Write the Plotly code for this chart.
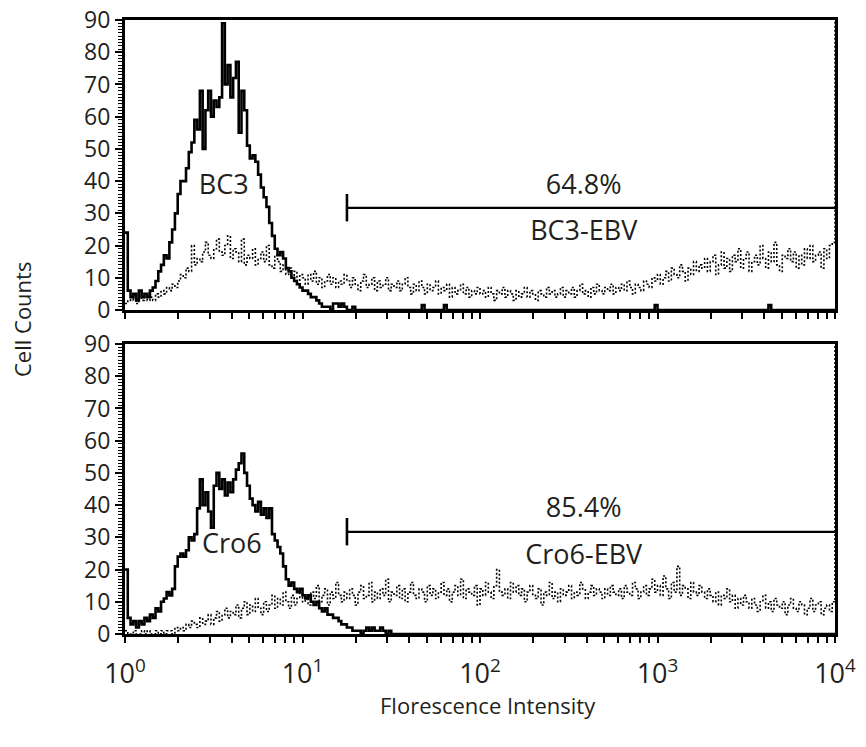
import plotly.graph_objects as go

# ---------------- data (256-channel log histograms, 64 channels per decade) ----------------
channels_per_decade = 64

bc3_counts = [
    24, 6, 4, 5, 3, 6, 4, 5, 4, 6, 7, 9, 12, 14, 17, 16,
    21, 25, 30, 36, 40, 40, 44, 49, 52, 59, 56, 68, 50, 62, 68, 60,
    65, 63, 66, 89, 70, 76, 66, 72, 77, 55, 68, 62, 51, 47, 48, 46,
    42, 38, 35, 32, 27, 23, 19, 17, 18, 16, 13, 12, 10, 9, 8, 7,
    6, 6, 5, 4, 4, 3, 2, 1, 1, 1, 0, 2, 2, 1, 2, 1,
    0, 0, 1, 0, 0, 0, 0, 0, 0, 0, 0, 0, 0, 0, 0, 0,
    0, 0, 0, 0, 0, 0, 0, 0, 0, 0, 0, 1.5, 0, 0, 0, 0,
    0, 0, 0, 1.5, 0, 0, 0, 0, 0, 0, 0, 0, 0, 0, 0, 0,
    0, 0, 0, 0, 0, 0, 0, 0, 0, 0, 0, 0, 0, 0, 0, 0,
    0, 0, 0, 0, 0, 0, 0, 0, 0, 0, 0, 0, 0, 0, 0, 0,
    0, 0, 0, 0, 0, 0, 0, 0, 0, 0, 0, 0, 0, 0, 0, 0,
    0, 0, 0, 0, 0, 0, 0, 0, 0, 0, 0, 0, 0, 0, 0, 1.5,
    0, 0, 0, 0, 0, 0, 0, 0, 0, 0, 0, 0, 0, 0, 0, 0,
    0, 0, 0, 0, 0, 0, 0, 0, 0, 0, 0, 0, 0, 0, 0, 0,
    0, 0, 0, 0, 0, 0, 0, 0, 1.5, 0, 0, 0, 0, 0, 0, 0,
    0, 0, 0, 0, 0, 0, 0, 0, 0, 0, 0, 0, 0, 0, 0, 0,
    0,
]

bc3_ebv_counts = [
    2, 3, 4, 3, 2, 4, 3, 5, 3, 4, 3, 5, 4, 6, 5, 7,
    6, 8, 7, 9, 11, 10, 13, 12, 20, 14, 16, 15, 18, 21, 17, 16,
    19, 22, 18, 17, 20, 23, 16, 19, 18, 15, 22, 14, 17, 16, 19, 14,
    16, 18, 15, 20, 14, 13, 17, 15, 12, 14, 11, 13, 10, 12, 9, 11,
    10, 8, 11, 9, 12, 8, 10, 7, 9, 11, 8, 10, 7, 9, 8, 11,
    9, 7, 10, 8, 6, 9, 11, 7, 8, 10, 6, 9, 7, 8, 10, 6,
    8, 7, 9, 6, 8, 10, 7, 5, 8, 6, 9, 7, 5, 8, 6, 7,
    9, 5, 7, 6, 8, 4, 7, 5, 6, 8, 5, 7, 4, 6, 5, 7,
    5, 6, 4, 7, 5, 3, 6, 5, 7, 4, 6, 5, 3, 6, 4, 5,
    7, 4, 6, 5, 3, 6, 5, 4, 7, 5, 6, 4, 5, 7, 4, 6,
    5, 7, 4, 6, 8, 5, 6, 4, 7, 5, 8, 6, 5, 7, 6, 8,
    5, 7, 6, 8, 6, 9, 7, 5, 8, 7, 6, 9, 8, 7, 10, 9,
    11, 8, 10, 12, 9, 13, 11, 10, 14, 12, 9, 13, 11, 15, 12, 14,
    13, 16, 12, 15, 17, 11, 14, 18, 13, 16, 12, 17, 15, 19, 13, 16,
    18, 12, 15, 17, 14, 20, 16, 13, 18, 15, 21, 14, 12, 17, 16, 19,
    15, 18, 13, 17, 14, 19, 16, 20, 15, 17, 18, 13, 19, 16, 20, 21,
    99,
]

cro6_counts = [
    20, 5, 3, 4, 2, 4, 3, 5, 4, 6, 5, 8, 7, 10, 11, 13,
    12, 14, 21, 24, 25, 24, 26, 30, 29, 31, 39, 48, 40, 44, 38, 33,
    46, 50, 45, 48, 43, 47, 44, 48, 51, 53, 56, 50, 46, 42, 40, 38,
    41, 37, 39, 36, 39, 31, 29, 27, 25, 21, 17, 15, 16, 14, 13, 14,
    12, 11, 12, 10, 9, 10, 8, 7, 8, 6, 6, 5, 5, 4, 3, 3,
    2, 2, 1, 1, 1, 0, 1, 2, 1, 2, 1, 1, 2, 1, 0, 1,
    0, 0, 0, 0, 0, 0, 0, 0, 0, 0, 0, 0, 0, 0, 0, 0,
    0, 0, 0, 0, 0, 0, 0, 0, 0, 0, 0, 0, 0, 0, 0, 0,
    0, 0, 0, 0, 0, 0, 0, 0, 0, 0, 0, 0, 0, 0, 0, 0,
    0, 0, 0, 0, 0, 0, 0, 0, 0, 0, 0, 0, 0, 0, 0, 0,
    0, 0, 0, 0, 0, 0, 0, 0, 0, 0, 0, 0, 0, 0, 0, 0,
    0, 0, 0, 0, 0, 0, 0, 0, 0, 0, 0, 0, 0, 0, 0, 0,
    0, 0, 0, 0, 0, 0, 0, 0, 0, 0, 0, 0, 0, 0, 0, 0,
    0, 0, 0, 0, 0, 0, 0, 0, 0, 0, 0, 0, 0, 0, 0, 0,
    0, 0, 0, 0, 0, 0, 0, 0, 0, 0, 0, 0, 0, 0, 0, 0,
    0, 0, 0, 0, 0, 0, 0, 0, 0, 0, 0, 0, 0, 0, 0, 0,
    0,
]

cro6_ebv_counts = [
    1, 0, 0, 1, 0, 0, 1, 0, 1, 0, 0, 1, 0, 1, 0, 1,
    1, 0, 2, 1, 2, 1, 3, 2, 4, 3, 2, 5, 3, 4, 6, 3,
    5, 7, 4, 6, 8, 5, 7, 6, 9, 5, 8, 10, 6, 9, 7, 11,
    8, 6, 10, 7, 9, 12, 8, 11, 9, 13, 10, 8, 12, 9, 11, 14,
    10, 12, 9, 13, 11, 15, 10, 12, 14, 9, 13, 11, 16, 12, 10, 13,
    11, 14, 12, 9, 13, 15, 11, 12, 16, 10, 13, 11, 14, 12, 17, 10,
    13, 12, 15, 11, 14, 10, 13, 16, 12, 11, 14, 13, 10, 15, 12, 14,
    11, 13, 16, 12, 14, 10, 13, 15, 12, 17, 11, 14, 13, 12, 15, 9,
    14, 12, 16, 13, 11, 15, 20, 13, 12, 14, 11, 16, 13, 15, 12, 14,
    10, 13, 15, 12, 11, 14, 9, 13, 12, 16, 11, 13, 10, 14, 12, 13,
    15, 11, 13, 12, 16, 14, 11, 13, 15, 12, 14, 13, 11, 14, 12, 15,
    13, 12, 14, 11, 15, 13, 12, 16, 14, 11, 13, 15, 12, 14, 17, 13,
    15, 12, 18, 14, 11, 16, 13, 21, 12, 15, 14, 11, 16, 13, 12, 15,
    13, 11, 14, 12, 10, 13, 9, 12, 11, 14, 10, 12, 8, 11, 9, 12,
    10, 8, 11, 9, 7, 10, 12, 8, 10, 7, 11, 9, 8, 10, 6, 9,
    11, 8, 7, 10, 9, 6, 8, 11, 7, 9, 10, 6, 8, 9, 7, 10,
    99,
]

# gate (marker) and labels
gate_start = 17.8
gate_end = 10000
gate_level = 31.7
gate_cap = [27.5, 36]
sample_names = ["BC3", "Cro6"]
sample_label_x = [3.6, 4.0]
sample_label_y = [38, 27.3]
gate_percent = ["64.8%", "85.4%"]
gate_percent_y = [38.2, 38.5]
ebv_names = ["BC3-EBV", "Cro6-EBV"]
ebv_label_y = [23.9, 23.9]
label_x = 384

decade_values = [1, 10, 100, 1000, 10000]
decade_labels = ["10<sup>0</sup>", "10<sup>1</sup>", "10<sup>2</sup>", "10<sup>3</sup>", "10<sup>4</sup>"]
y_ticks = [0, 10, 20, 30, 40, 50, 60, 70, 80, 90]


def intensities(counts):
    return [10 ** (i / channels_per_decade) for i in range(len(counts))]


# ---------------- figure ----------------
TXT = "#231f20"
FONT = "Open Sans"
fig = go.Figure()

panels = [
    ("x", "y", bc3_counts, bc3_ebv_counts, 0),
    ("x2", "y2", cro6_counts, cro6_ebv_counts, 1),
]
for xa, ya, solid, dotted, k in panels:
    fig.add_trace(go.Scatter(x=intensities(dotted), y=dotted, mode="lines", xaxis=xa, yaxis=ya,
                             line=dict(color="black", width=1.6, dash="2px,2px", shape="hv"),
                             showlegend=False, hoverinfo="skip"))
    fig.add_trace(go.Scatter(x=intensities(solid), y=solid, mode="lines", xaxis=xa, yaxis=ya,
                             line=dict(color="black", width=2.6, shape="hv"),
                             showlegend=False, hoverinfo="skip"))
    # gate marker
    fig.add_trace(go.Scatter(x=[gate_start, gate_end], y=[gate_level, gate_level], mode="lines",
                             xaxis=xa, yaxis=ya, line=dict(color="black", width=2.2),
                             showlegend=False, hoverinfo="skip"))
    fig.add_trace(go.Scatter(x=[gate_start, gate_start], y=gate_cap, mode="lines",
                             xaxis=xa, yaxis=ya, line=dict(color="black", width=2.6),
                             showlegend=False, hoverinfo="skip"))
    # labels
    fig.add_trace(go.Scatter(
        x=[sample_label_x[k], label_x, label_x],
        y=[sample_label_y[k], gate_percent_y[k], ebv_label_y[k]],
        text=[sample_names[k], gate_percent[k], ebv_names[k]],
        mode="text", xaxis=xa, yaxis=ya, textposition="middle center",
        textfont=dict(family=FONT, size=27, color=TXT),
        showlegend=False, hoverinfo="skip", cliponaxis=False))

minor_vals = [m * 10 ** d for d in range(4) for m in range(1, 10)] + [10000]
common_x = dict(type="log", range=[0, 4], tickmode="array", tickvals=minor_vals,
                ticks="outside", ticklen=6, tickwidth=1.5, tickcolor="black",
                showline=True, linecolor="black", linewidth=2.5, mirror=True,
                showgrid=False, zeroline=False, automargin=False)
common_y = dict(range=[0, 90], tickmode="array", tickvals=y_ticks,
                ticks="outside", ticklen=7, tickwidth=2, tickcolor="black",
                showline=True, linecolor="black", linewidth=3, mirror=True,
                showgrid=False, zeroline=False, automargin=False,
                ticklabeloverflow="allow",
                tickfont=dict(family=FONT, size=23, color=TXT),
                minor=dict(dtick=1, tick0=0, ticks="outside", ticklen=4, tickwidth=1,
                           tickcolor="black", showgrid=False))

bottom_text = [decade_labels[decade_values.index(v)] if v in decade_values else "" for v in minor_vals]

fig.update_layout(
    width=866, height=747,
    margin=dict(l=125, r=31, t=20, b=113),
    paper_bgcolor="white", plot_bgcolor="white",
    xaxis=dict(**common_x, anchor="y", showticklabels=False),
    yaxis=dict(**common_y, domain=[324 / 614, 1], anchor="x"),
    xaxis2=dict(**common_x, anchor="y2", ticktext=bottom_text, ticklabelstandoff=8,
                ticklabeloverflow="allow",
                tickfont=dict(family=FONT, size=27, color=TXT)),
    yaxis2=dict(**common_y, domain=[0, 290 / 614], anchor="x2"),
    annotations=[
        dict(text="Cell Counts", xref="paper", yref="paper", x=-103 / 710, y=314 / 614,
             textangle=-90, showarrow=False, xanchor="center", yanchor="middle",
             font=dict(family=FONT, size=22, color=TXT)),
        dict(text="Florescence Intensity", xref="paper", yref="paper", x=363 / 710, y=-71 / 614,
             showarrow=False, xanchor="center", yanchor="middle",
             font=dict(family=FONT, size=22, color=TXT)),
    ],
)

# remove the browser's default 8px page margin so the figure fills the window exactly
fig.write_html("out.html", config={"displayModeBar": False},
               post_script="document.body.style.margin='0';document.body.style.overflow='hidden';")
